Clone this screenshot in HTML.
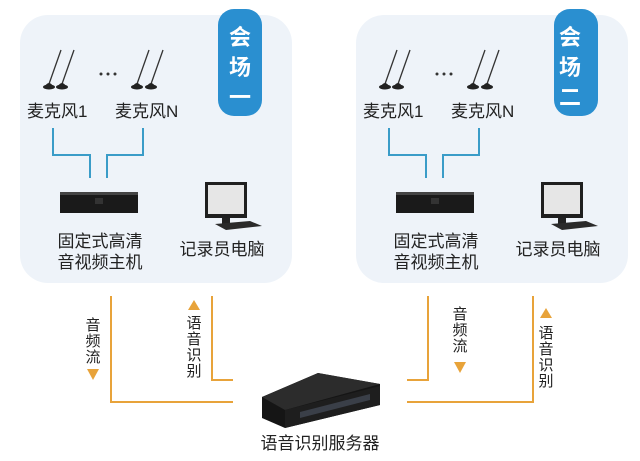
<!DOCTYPE html>
<html><head><meta charset="utf-8"><style>
html,body{margin:0;padding:0;background:#fff;}
svg{display:block;}
text{font-family:"Liberation Sans","Noto Sans CJK SC",sans-serif;}
</style></head><body>
<svg width="640" height="461" viewBox="0 0 640 461" xmlns="http://www.w3.org/2000/svg">
<defs>
<g id="mic">
  <path d="M0 0 L12 -34" stroke="#333" stroke-width="1.3" fill="none"/>
  <path d="M-4 2 Q0 -4 4 2 Z" fill="#222"/>
  <ellipse cx="0" cy="3" rx="6" ry="2.5" fill="#222"/>
</g>
<g id="panel">
  <rect x="20" y="15" width="272" height="268" rx="28" fill="#eef3f9"/>
  <rect x="218" y="9" width="44" height="107" rx="16" fill="#2a8fd0"/>
  <use href="#mic" x="49" y="84"/><use href="#mic" x="62" y="84"/>
  <use href="#mic" x="137" y="84"/><use href="#mic" x="151" y="84"/>
  <circle cx="101" cy="74" r="1.5" fill="#333"/><circle cx="108" cy="74" r="1.5" fill="#333"/><circle cx="115" cy="74" r="1.5" fill="#333"/>
  <text x="27" y="117" font-size="17" fill="#222">麦克风1</text>
  <text x="115" y="117" font-size="17" fill="#222">麦克风N</text>
  <path d="M53 128 V155 H90 V178 M143 128 V155 H107 V178" stroke="#3a9cc8" stroke-width="2" fill="none"/>
  <rect x="60" y="192" width="78" height="21" fill="#1a1a1a"/>
  <rect x="60" y="192" width="78" height="3" fill="#444"/>
  <rect x="95" y="198" width="8" height="6" fill="#333"/>
  <text x="100" y="247" font-size="17" text-anchor="middle" fill="#222">固定式高清</text>
  <text x="100" y="268" font-size="17" text-anchor="middle" fill="#222">音视频主机</text>
  <rect x="205" y="182" width="42" height="36" fill="#1f1f1f"/>
  <rect x="208" y="185" width="36" height="29" fill="#e6e6e6"/>
  <rect x="222" y="218" width="8" height="6" fill="#222"/>
  <path d="M215 224 L250 221 L262 226 L226 230 Z" fill="#2a2a2a"/>
  <text x="222" y="255" font-size="17" text-anchor="middle" fill="#222">记录员电脑</text>
</g>
</defs>
<use href="#panel"/>
<g transform="translate(336,0)"><use href="#panel"/></g>
<g fill="#fff" font-size="22" font-weight="bold" text-anchor="middle">
  <text x="240" y="45">会</text><text x="240" y="75">场</text><text x="240" y="105">一</text>
  <text x="570" y="45">会</text><text x="570" y="75">场</text><text x="570" y="105">二</text>
</g>
<g stroke="#e8a33a" stroke-width="2" fill="none">
  <path d="M111 296 V402 H233"/>
  <path d="M212 296 V380 H233"/>
  <path d="M428 296 V380 H407"/>
  <path d="M533 296 V402 H407"/>
</g>
<g fill="#e8a33a">
  <path d="M87 369 H99 L93 380 Z"/>
  <path d="M188 310 H200 L194 300 Z"/>
  <path d="M454 362 H466 L460 373 Z"/>
  <path d="M540 318 H552 L546 308 Z"/>
</g>
<g font-size="15" fill="#222" text-anchor="middle">
  <text x="93" y="330">音</text><text x="93" y="346">频</text><text x="93" y="362">流</text>
  <text x="194" y="328">语</text><text x="194" y="344">音</text><text x="194" y="360">识</text><text x="194" y="376">别</text>
  <text x="460" y="319">音</text><text x="460" y="335">频</text><text x="460" y="351">流</text>
  <text x="546" y="338">语</text><text x="546" y="354">音</text><text x="546" y="370">识</text><text x="546" y="386">别</text>
</g>
<path d="M262 397 L318 373 L380 384 L380 405 L285 428 L262 418 Z" fill="#151515"/>
<path d="M262 397 L318 373 L380 384 L285 410 Z" fill="#2c2c2c"/>
<path d="M285 410 L380 386 L380 405 L285 428 Z" fill="#1e1e1e"/>
<path d="M300 412 L370 394 L370 400 L300 418 Z" fill="#3a3f48"/>
<text x="320" y="449" font-size="17" text-anchor="middle" fill="#222">语音识别服务器</text>
</svg>
</body></html>
